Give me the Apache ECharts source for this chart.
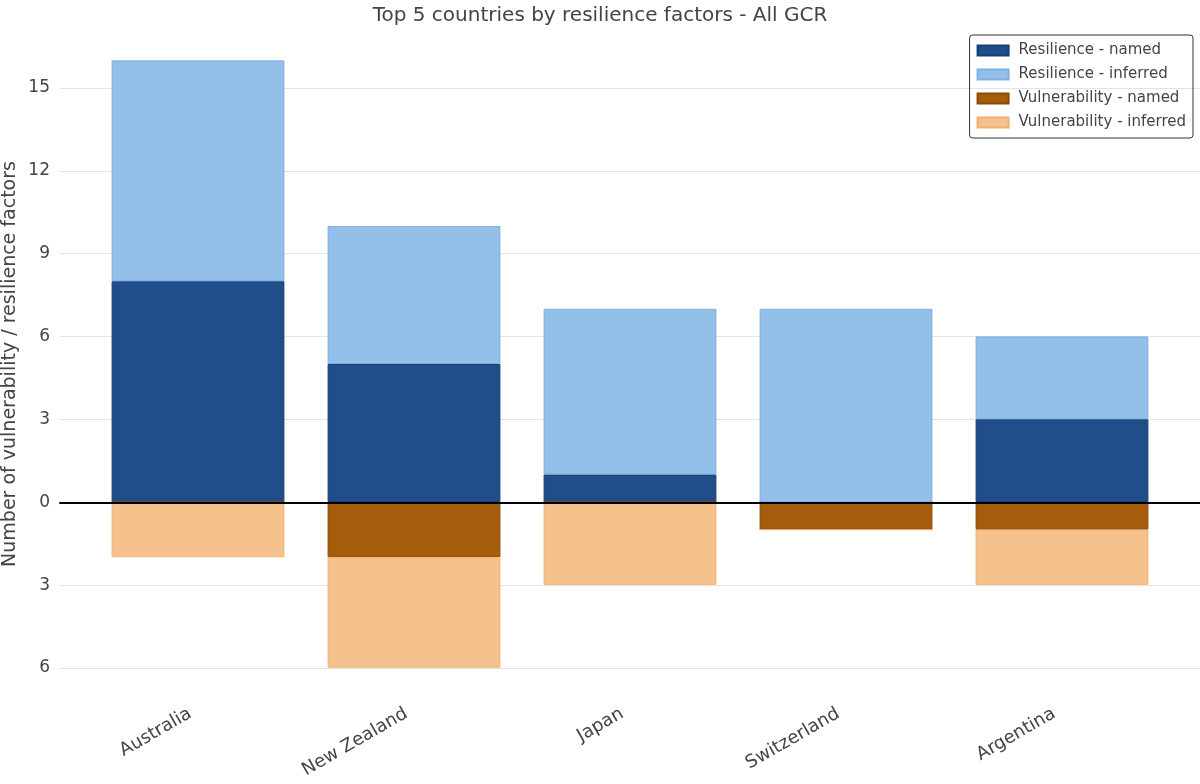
<!DOCTYPE html>
<html>
<head>
<meta charset="utf-8">
<script src="https://cdn.jsdelivr.net/npm/echarts@6/dist/echarts.min.js"></script>
<style>
  html, body { margin: 0; padding: 0; background: #fff; }
  #chart { width: 1200px; height: 784px; }
</style>
</head>
<body>
<div id="chart"></div>
<script>
const countries = ['Australia', 'New Zealand', 'Japan', 'Switzerland', 'Argentina'];
const resilienceNamed = [8, 5, 1, 0, 3];
const resilienceInferred = [8, 5, 6, 7, 3];
// vulnerability counts, drawn below zero
const vulnerabilityNamed = [0, 2, 0, 1, 1];
const vulnerabilityInferred = [2, 4, 3, 0, 2];
const yTicks = [-6, -3, 0, 3, 6, 9, 12, 15];

const font = 'DejaVu Sans';
const textColor = '#444';

const chart = echarts.init(document.getElementById('chart'));

const barSeries = (name, values, sign, stack, fill, border) => ({
  name: name,
  type: 'bar',
  xAxisIndex: 1,
  yAxisIndex: 1,
  stack: stack,
  barCategoryGap: '20%',
  barGap: '-100%',
  data: values.map(v => v * sign),
  itemStyle: { color: fill, borderColor: border, borderWidth: 1 },
  emphasis: { disabled: true }
});

const option = {
  animation: false,
  textStyle: { fontFamily: font },
  title: {
    text: 'Top 5 countries by resilience factors - All GCR',
    left: 'center',
    top: 1,
    textStyle: { fontFamily: font, fontSize: 20, fontWeight: 'normal', color: textColor }
  },
  legend: {
    orient: 'vertical',
    right: 7,
    top: 35,
    padding: [7, 7, 7, 7],
    icon: 'rect',
    itemWidth: 31,
    itemHeight: 10,
    itemGap: 7,
    borderColor: '#333',
    borderWidth: 1,
    borderRadius: 3,
    textStyle: { fontFamily: font, fontSize: 15, color: textColor, lineHeight: 17, padding: [0, 0, 0, 5] },
    data: ['Resilience - named', 'Resilience - inferred', 'Vulnerability - named', 'Vulnerability - inferred']
  },
  grid: [
    { left: 60, right: 0, top: 88, bottom: 116, outerBoundsMode: 'none' },
    { left: 90, right: 30, top: 30, bottom: 86, outerBoundsMode: 'none' }
  ],
  xAxis: [
    {
      gridIndex: 0,
      type: 'value',
      min: 0,
      max: 1,
      z: 10,
      axisLine: { show: true, onZero: true, lineStyle: { color: '#000', width: 2 } },
      axisTick: { show: false },
      axisLabel: { show: false },
      splitLine: { show: false }
    },
    {
      gridIndex: 1,
      type: 'category',
      data: countries,
      axisLine: { show: false },
      axisTick: { show: false },
      axisLabel: {
        rotate: 30,
        margin: 10,
        padding: [0, 9, 0, 0],
        fontFamily: font,
        fontSize: 18,
        color: textColor
      }
    }
  ],
  yAxis: [
    {
      gridIndex: 0,
      type: 'value',
      min: yTicks[0],
      max: yTicks[yTicks.length - 1],
      interval: 3,
      axisLine: { show: false },
      axisTick: { show: false },
      axisLabel: {
        margin: 10,
        fontFamily: font,
        fontSize: 17,
        color: textColor,
        formatter: v => String(Math.abs(v))
      },
      splitLine: { lineStyle: { color: '#e3e3e3', width: 1 } }
    },
    {
      gridIndex: 1,
      type: 'value',
      min: -7.1,
      max: 17.1,
      name: 'Number of vulnerability / resilience factors',
      nameLocation: 'middle',
      nameGap: 70,
      nameTextStyle: { fontFamily: font, fontSize: 19, color: textColor },
      axisLine: { show: false },
      axisTick: { show: false },
      axisLabel: { show: false },
      splitLine: { show: false }
    }
  ],
  series: [
    barSeries('Resilience - named', resilienceNamed, 1, 'res', '#1f4e8a', '#163f73'),
    barSeries('Resilience - inferred', resilienceInferred, 1, 'res', '#94bfe8', '#7db1e3'),
    barSeries('Vulnerability - named', vulnerabilityNamed, -1, 'vul', '#a55c0b', '#8c4b05'),
    barSeries('Vulnerability - inferred', vulnerabilityInferred, -1, 'vul', '#f5c18c', '#f1b071'),
    {
      type: 'line',
      xAxisIndex: 0,
      yAxisIndex: 0,
      data: [],
      silent: true
    }
  ]
};

chart.setOption(option);
</script>
</body>
</html>
